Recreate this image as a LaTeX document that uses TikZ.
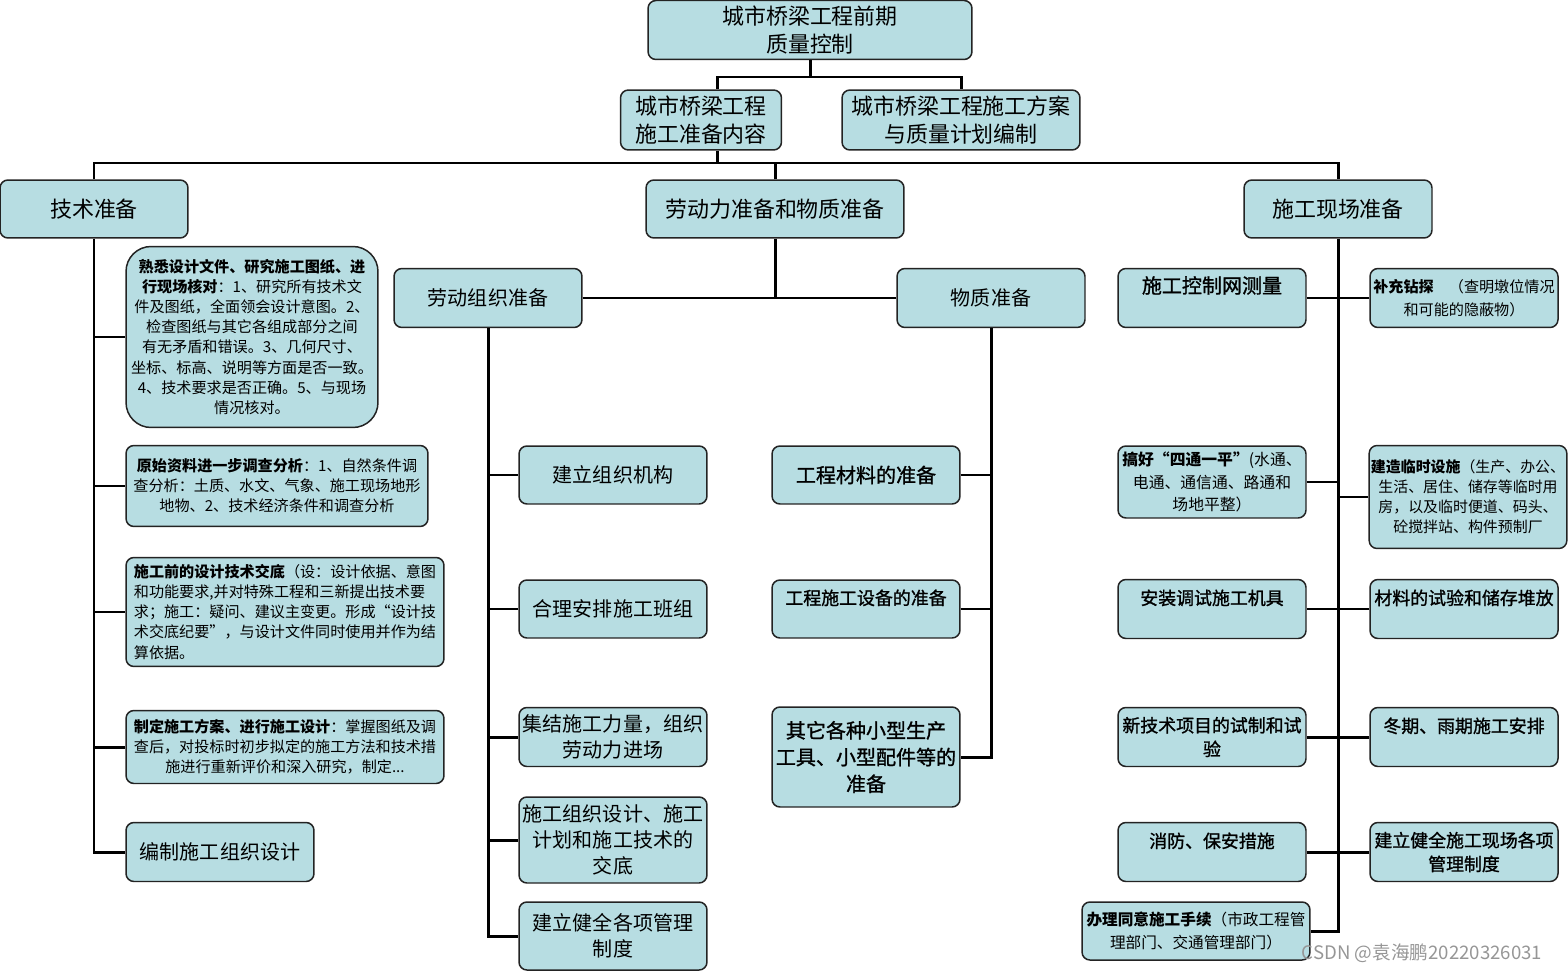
\documentclass[tikz,border=0pt]{standalone}
\usepackage{fontspec}
\setmainfont{Noto Sans CJK SC}
\newfontfamily\semib[FakeBold=1.2]{Noto Sans CJK SC}
\usepackage{tikz}
\usetikzlibrary{calc}
\definecolor{bTeal}{RGB}{183,221,226}
\definecolor{bEdge}{RGB}{35,35,35}
\definecolor{bMark}{RGB}{150,150,150}
\tikzset{
box/.style={rectangle,rounded corners=4.5pt,draw=bEdge,line width=0.85pt,fill=bTeal,align=center,inner sep=1pt},
unit/.style={box,minimum width=3.76cm,minimum height=1.18cm},
fbig/.style={font=\fontsize{12.5}{15.8}\selectfont},
fmid/.style={font=\fontsize{11.4}{14.8}\selectfont},
fsemi/.style={font=\fontsize{11.4}{15.2}\selectfont\semib},
fsub/.style={font=\fontsize{10.2}{13.5}\selectfont\semib},
fnote/.style={font=\fontsize{8.6}{11.4}\selectfont},
link/.style={line width=1.7pt,draw=black}
}
\begin{document}
\begin{tikzpicture}[x=0.02cm,y=-0.02cm]
\useasboundingbox (0,0) rectangle (1568,973);
% top levels
\node[box,fbig,minimum width=6.48cm,minimum height=1.18cm] (top) at (810,30) {城市桥梁工程前期\\质量控制};
\node[box,fbig,minimum width=3.22cm,minimum height=1.2cm] (prep) at (701,120) {城市桥梁工程\\施工准备内容};
\node[box,fbig,minimum width=4.76cm,minimum height=1.2cm] (plan) at (961,120) {城市桥梁工程施工方案\\与质量计划编制};
\node[unit,fbig,minimum height=1.16cm] (tech) at (94,209) {技术准备};
\node[unit,fbig,minimum width=5.16cm,minimum height=1.16cm] (labmat) at (775,209) {劳动力准备和物质准备};
\node[unit,fbig,minimum height=1.16cm] (site) at (1338,209) {施工现场准备};
% technical preparation
\node[box,fnote,rounded corners=0.5cm,minimum width=5.04cm,minimum height=3.62cm] (t1) at (252,337)
  {{\bfseries 熟悉设计文件、研究施工图纸、进}\\{\bfseries 行现场核对}：1、研究所有技术文\\件及图纸，全面领会设计意图。2、\\检查图纸与其它各组成部分之间\\有无矛盾和错误。3、几何尺寸、\\坐标、标高、说明等方面是否一致。\\4、技术要求是否正确。5、与现场\\情况核对。};
\node[box,fnote,minimum width=6.04cm,minimum height=1.62cm] (t2) at (277,486)
  {{\bfseries 原始资料进一步调查分析}：1、自然条件调\\查分析：土质、水文、气象、施工现场地形\\地物、2、技术经济条件和调查分析};
\node[box,fnote,align=left,minimum width=6.36cm,minimum height=2.18cm] (t3) at (285,612)
  {{\bfseries 施工前的设计技术交底}（设：设计依据、意图\\和功能要求,并对特殊工程和三新提出技术要\\求；施工：疑问、建议主变更。形成“设计技\\术交底纪要”，与设计文件同时使用并作为结\\算依据。};
\node[box,fnote,minimum width=6.36cm,minimum height=1.46cm] (t4) at (285,747)
  {{\bfseries 制定施工方案、进行施工设计}：掌握图纸及调\\查后，对投标时初步拟定的施工方法和技术措\\施进行重新评价和深入研究，制定...};
\node[unit,fmid] (t5) at (220,852) {编制施工组织设计};
% labour and material
\node[unit,fmid] (labor) at (488,298) {劳动组织准备};
\node[unit,fmid] (matl) at (991,298) {物质准备};
\node[unit,fmid,minimum height=1.16cm] (m1) at (613,475) {建立组织机构};
\node[unit,fmid,minimum height=1.16cm] (m2) at (613,609) {合理安排施工班组};
\node[unit,fmid] (m3) at (613,737) {集结施工力量，组织\\劳动力进场};
\node[unit,fmid,minimum height=1.72cm] (m4) at (613,840) {施工组织设计、施工\\计划和施工技术的\\交底};
\node[unit,fmid,minimum height=1.36cm] (m5) at (613,936) {建立健全各项管理\\制度};
\node[unit,fsemi,minimum height=1.16cm] (n1) at (866,475) {工程材料的准备};
\node[unit,fsub,minimum height=1.16cm] (n2) at (866,609) {工程施工设备的准备\\~};
\node[unit,fsemi,minimum height=2cm] (n3) at (866,757) {其它各种小型生产\\工具、小型配件等的\\准备};
% site preparation
\node[unit,fsemi] (c1) at (1212,298) {施工控制网测量\\~};
\node[unit,fnote,font=\fontsize{8.6}{13}\selectfont] (d1) at (1464,298) {{\bfseries 补充钻探}\quad（查明墩位情况\\和可能的隐蔽物）};
\node[unit,fnote,font=\fontsize{9}{13}\selectfont,minimum height=1.44cm] (c2) at (1212,482) {{\bfseries 搞好“四通一平”}(水通、\\电通、通信通、路通和\\场地平整）};
\node[unit,fnote,font=\fontsize{8.5}{11.4}\selectfont,minimum width=3.92cm,minimum height=2.06cm] (d2) at (1468,497) {{\bfseries 建造临时设施}（生产、办公、\\生活、居住、储存等临时用\\房，以及临时便道、码头、\\砼搅拌站、构件预制厂};
\node[unit,fsub] (c3) at (1212,609) {安装调试施工机具\\~};
\node[unit,fsub] (d3) at (1464,609) {材料的试验和储存堆放\\~};
\node[unit,fsub] (c4) at (1212,737) {新技术项目的试制和试\\验};
\node[unit,fsub] (d4) at (1464,737) {冬期、雨期施工安排\\~};
\node[unit,fsub] (c5) at (1212,852) {消防、保安措施\\~};
\node[unit,fsub] (d5) at (1464,852) {建立健全施工现场各项\\管理制度};
\node[unit,fnote,font=\fontsize{8.9}{13}\selectfont,minimum width=4.56cm,minimum height=1.16cm] (r6) at (1196,931) {{\bfseries 办理同意施工手续}（市政工程管\\理部门、交通管理部门）};
\node[text=bMark,font=\fontsize{10.6}{12}\selectfont,inner sep=0pt] (wm) at (1422,953) {CSDN @袁海鹏20220326031};
% connectors
\coordinate (j1) at (810,77);
\coordinate (bus) at (717,163);
\draw[link] (top.south) -- (j1);
\draw[link] (j1) -| (plan.north);
\draw[link] (j1) -| ($(prep.north)+(16,0)$);
\draw[link] ($(prep.south)+(16,0)$) -- (bus);
\draw[link] (tech.north) -- (tech.north |- bus) -- (site.north |- bus) -- (site.north);
\draw[link] (labmat.north) -- (labmat.north |- bus);
\draw[link] (tech.south) |- (t5.west);
\foreach \n in {t1,t2,t3,t4} \draw[link] (tech.south |- \n.west) -- (\n.west);
\draw[link] (labmat.south) -- (labmat.south |- labor.east);
\draw[link] (labor.east) -- (matl.west);
\draw[link] (labor.south) |- (m5.west);
\foreach \n in {m1,m2,m3,m4} \draw[link] (labor.south |- \n.west) -- (\n.west);
\draw[link] (matl.south) |- (n3.east);
\foreach \n in {n1,n2} \draw[link] (\n.east) -- (matl.south |- \n.east);
\draw[link] (site.south) |- (r6.east);
\foreach \n in {c1,c2,c3,c4,c5} \draw[link] (\n.east) -- (site.south |- \n.east);
\foreach \n in {d1,d2,d3,d4,d5} \draw[link] (\n.west) -- (site.south |- \n.west);
\end{tikzpicture}
\end{document}
